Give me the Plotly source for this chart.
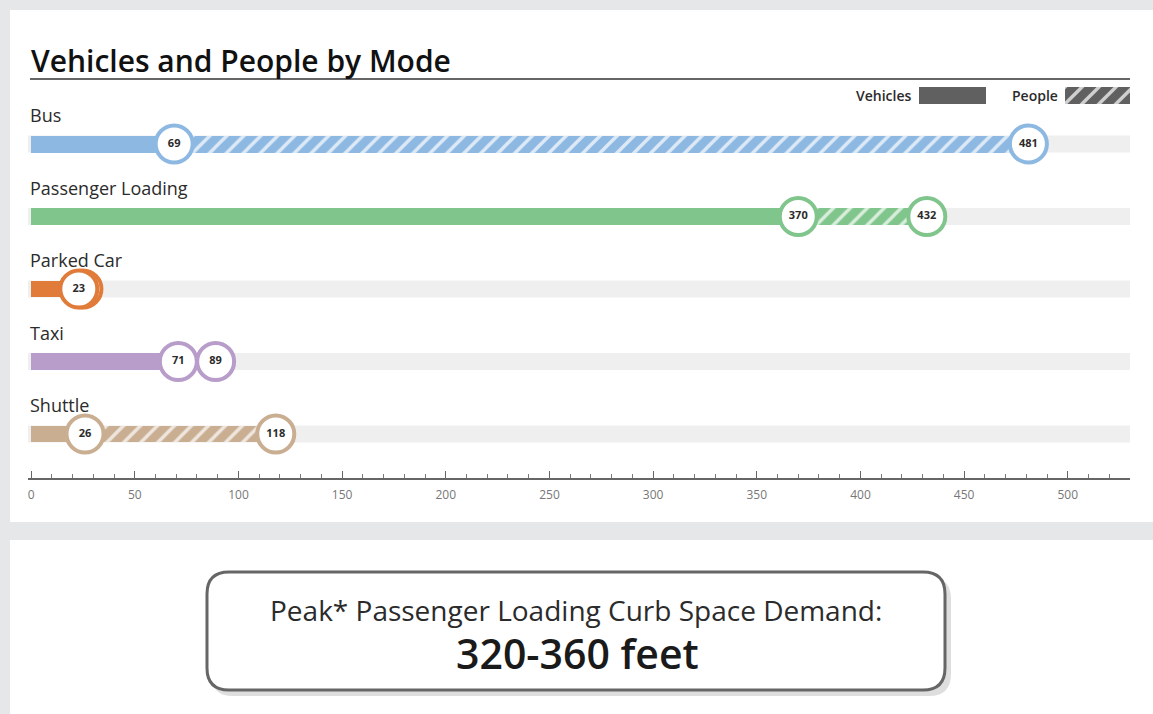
import plotly.graph_objects as go

# ---------------- data ----------------
modes = ["Bus", "Passenger Loading", "Parked Car", "Taxi", "Shuttle"]
vehicles = [69, 370, 23, 71, 26]
people = [481, 432, 25, 89, 118]
people_labels = [481, 432, 23, 89, 118]
x_ticks = [0, 50, 100, 150, 200, 250, 300, 350, 400, 450, 500]

title_text = "Vehicles and People by Mode"
box_line1 = "Peak* Passenger Loading Curb Space Demand:"
box_line2 = "320-360 feet"

# ---------------- styles ----------------
colors = ["#8db8e2", "#80c58b", "#e07b39", "#b89cc9", "#c9ae92"]
W, H = 1153, 714
ML, MR, MT, MB = 28, 23, 80, 236
PW = W - ML - MR
PH = H - MT - MB
FONT = "Open Sans"
TXT = "#2b2b2b"
HATCH = dict(shape="/", fillmode="replace", fgcolor="#ffffff", fgopacity=0.7, size=12, solidity=0.28)


def px_x(p):
    return (p - ML) / PW


def px_y(p):
    return (H - MB - p) / PH


fig = go.Figure()

bar_w = 0.234

# vehicles (solid)
fig.add_trace(go.Bar(
    orientation="h", y=modes, x=vehicles, width=bar_w,
    marker=dict(color=colors, line=dict(width=0)),
    hoverinfo="skip", showlegend=False,
))
# people (hatched) - one trace per mode so each gets its own pattern background
for m, v, p, c in zip(modes, vehicles, people, colors):
    fig.add_trace(go.Bar(
        orientation="h", y=[m], x=[p - v], base=[v], width=bar_w,
        marker=dict(color=c, line=dict(width=0), pattern=dict(HATCH, bgcolor=c)),
        hoverinfo="skip", showlegend=False,
    ))
# people circles
fig.add_trace(go.Scatter(
    x=people, y=modes, mode="markers+text", text=[str(v) for v in people_labels],
    textposition="middle center",
    textfont=dict(family=FONT, size=11, color=TXT, weight="bold"),
    marker=dict(size=37, color="white", line=dict(color=colors, width=4)),
    hoverinfo="skip", showlegend=False, cliponaxis=False,
))
# vehicle circles
fig.add_trace(go.Scatter(
    x=vehicles, y=modes, mode="markers+text", text=[str(v) for v in vehicles],
    textposition="middle center",
    textfont=dict(family=FONT, size=11, color=TXT, weight="bold"),
    marker=dict(size=37, color="white", line=dict(color=colors, width=4)),
    hoverinfo="skip", showlegend=False, cliponaxis=False,
))

# legend swatches on small helper axes
fig.add_trace(go.Bar(orientation="h", x=[1], y=[0], width=1, xaxis="x2", yaxis="y2",
                     marker=dict(color="#606060", line=dict(width=0)),
                     hoverinfo="skip", showlegend=False))
fig.add_trace(go.Bar(orientation="h", x=[1], y=[0], width=1, xaxis="x3", yaxis="y3",
                     marker=dict(color="#606060", line=dict(width=0),
                                 pattern=dict(HATCH, bgcolor="#606060")),
                     hoverinfo="skip", showlegend=False))

shapes = []
# white panels
shapes.append(dict(type="rect", xref="paper", yref="paper", x0=px_x(10), x1=px_x(1170),
                   y0=px_y(10), y1=px_y(522), fillcolor="white", line=dict(width=0), layer="below"))
shapes.append(dict(type="rect", xref="paper", yref="paper", x0=px_x(10), x1=px_x(1170),
                   y0=px_y(540), y1=px_y(730), fillcolor="white", line=dict(width=0), layer="below"))
# title underline
shapes.append(dict(type="line", xref="paper", yref="paper", x0=px_x(30), x1=px_x(1130),
                   y0=px_y(79), y1=px_y(79), line=dict(color="#333333", width=1.5)))
# tracks
for i in range(len(modes)):
    shapes.append(dict(type="rect", xref="x domain", yref="y", x0=0, x1=1,
                       y0=i - bar_w / 2, y1=i + bar_w / 2, fillcolor="#efefef",
                       line=dict(width=0), layer="below"))


def rounded_path(x0, y0, x1, y1, r):
    pts = [
        ("M", [(x0 + r, y0)]),
        ("L", [(x1 - r, y0)]),
        ("Q", [(x1, y0), (x1, y0 + r)]),
        ("L", [(x1, y1 - r)]),
        ("Q", [(x1, y1), (x1 - r, y1)]),
        ("L", [(x0 + r, y1)]),
        ("Q", [(x0, y1), (x0, y1 - r)]),
        ("L", [(x0, y0 + r)]),
        ("Q", [(x0, y0), (x0 + r, y0)]),
    ]
    s = ""
    for cmd, ps in pts:
        s += cmd + " " + " ".join(f"{px_x(a):.5f},{px_y(b):.5f}" for a, b in ps) + " "
    return s + "Z"


# box shadow and box
shapes.append(dict(type="path", xref="paper", yref="paper",
                   path=rounded_path(211, 577, 951, 696, 22),
                   fillcolor="rgba(0,0,0,0.13)", line=dict(width=0)))
shapes.append(dict(type="path", xref="paper", yref="paper",
                   path=rounded_path(207, 572, 945, 690, 22),
                   fillcolor="white", line=dict(color="#666666", width=3)))

annotations = []
annotations.append(dict(xref="paper", yref="paper", x=px_x(29), y=px_y(60), xanchor="left",
                        yanchor="middle", text=title_text, showarrow=False,
                        font=dict(family=FONT, size=30, color="#111111", weight=600)))
for m in modes:
    annotations.append(dict(xref="paper", yref="y", x=px_x(28), y=m, yshift=29, xanchor="left",
                            yanchor="middle", text=m, showarrow=False,
                            font=dict(family=FONT, size=18, color=TXT)))
annotations.append(dict(xref="paper", yref="paper", x=px_x(914), y=px_y(96), xanchor="right",
                        yanchor="middle", text="Vehicles", showarrow=False,
                        font=dict(family=FONT, size=14, color=TXT, weight=600)))
annotations.append(dict(xref="paper", yref="paper", x=px_x(1060), y=px_y(96), xanchor="right",
                        yanchor="middle", text="People", showarrow=False,
                        font=dict(family=FONT, size=14, color=TXT, weight=600)))
annotations.append(dict(xref="paper", yref="paper", x=px_x(576), y=px_y(610), xanchor="center",
                        yanchor="middle", text=box_line1, showarrow=False,
                        font=dict(family=FONT, size=28, color=TXT)))
annotations.append(dict(xref="paper", yref="paper", x=px_x(577), y=px_y(653), xanchor="center",
                        yanchor="middle", text=box_line2, showarrow=False,
                        font=dict(family=FONT, size=41, color="#1a1a1a", weight=600)))

fig.update_layout(
    width=W, height=H,
    margin=dict(l=ML, r=MR, t=MT, b=MB),
    paper_bgcolor="#e6e7e9",
    plot_bgcolor="rgba(0,0,0,0)",
    barmode="overlay",
    bargap=0,
    shapes=shapes,
    annotations=annotations,
    xaxis=dict(range=[-1.5, 530], tickvals=x_ticks, ticks="inside", ticklen=7, tickwidth=1,
               tickcolor="#666666", showline=True, linecolor="#666666", linewidth=1.5,
               showgrid=False, zeroline=False, fixedrange=True, ticklabelstandoff=5,
               tickfont=dict(family=FONT, size=12, color="#777777"),
               minor=dict(dtick=10, tick0=0, ticks="inside", ticklen=4, tickcolor="#777777",
                          showgrid=False)),
    yaxis=dict(categoryorder="array", categoryarray=modes, range=[4.607, -0.883],
               showticklabels=False, showgrid=False, zeroline=False, showline=False,
               ticks="", fixedrange=True),
    xaxis2=dict(domain=[px_x(919), px_x(986)], range=[0, 1], visible=False, anchor="y2",
                fixedrange=True),
    yaxis2=dict(domain=[px_y(104), px_y(87)], range=[-0.5, 0.5], visible=False, anchor="x2",
                fixedrange=True),
    xaxis3=dict(domain=[px_x(1065), px_x(1130)], range=[0, 1], visible=False, anchor="y3",
                fixedrange=True),
    yaxis3=dict(domain=[px_y(104), px_y(87)], range=[-0.5, 0.5], visible=False, anchor="x3",
                fixedrange=True),
)

fig.write_html("out.html", config=dict(displayModeBar=False),
               post_script="document.body.style.margin='0';document.body.style.overflow='hidden';")
